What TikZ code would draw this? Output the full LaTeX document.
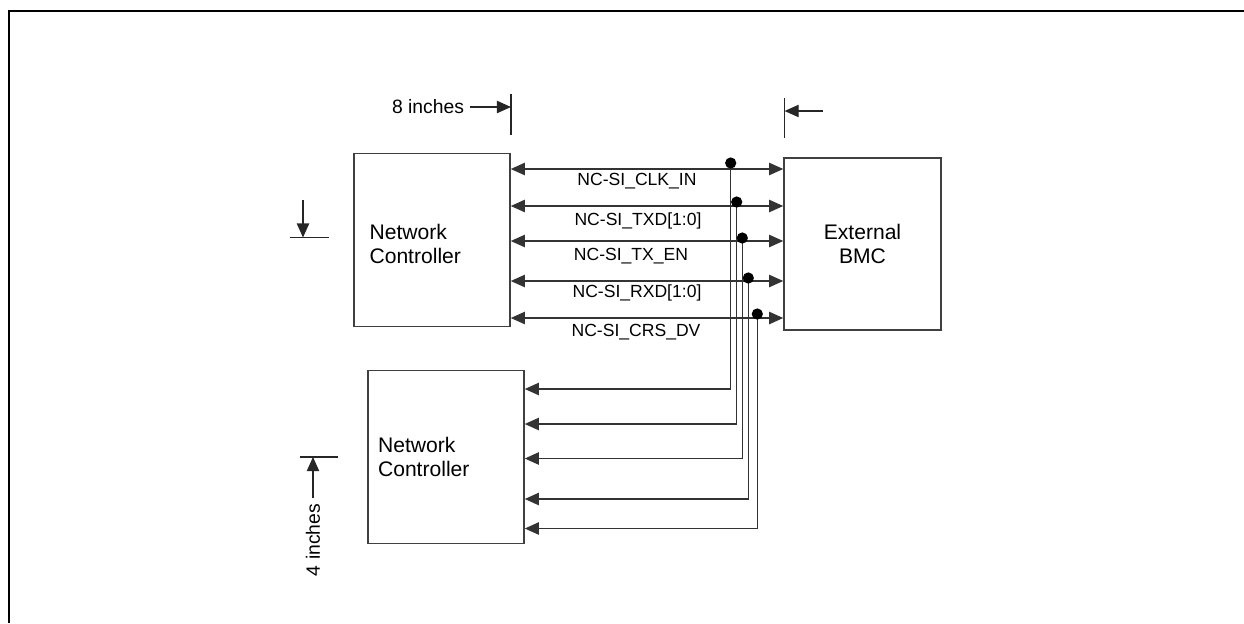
\documentclass[tikz,border=0pt]{standalone}
\usepackage{fontspec}
\setmainfont{Liberation Sans}
\usetikzlibrary{arrows.meta,positioning}

\tikzset{
  block/.style={draw=black!75,line width=0.9pt,minimum width=3.12cm,
    minimum height=3.46cm,inner sep=0pt,align=center,
    font=\fontsize{12}{13.7}\selectfont},
  blocktext/.style={align=left,inner sep=0pt,font=\fontsize{12}{13.7}\selectfont},
  bus/.style={draw=black!80,line width=0.8pt},
  dimline/.style={draw=black!85,line width=0.7pt},
  dimtext/.style={font=\fontsize{11}{13}\selectfont,inner sep=3pt},
}

\begin{document}
\begin{tikzpicture}[x=0.02cm,y=-0.02cm,>={Triangle[length=8pt,width=7pt]},
    font=\fontsize{10}{12}\selectfont]
    \useasboundingbox (0,0) rectangle (1244,623);
    \draw[line width=1.2pt] (1244,11) -- (9,11) -- (9,623);

    % blocks
    \node[block] (nc1) at (432,240) {};
    \node[block,minimum height=3.44cm,minimum width=3.14cm] (bmc) at (862.5,244) {External\\BMC};
    \node[block] (nc2) at (446,457) {};
    \node[blocktext,right=0.32cm of nc1.west,yshift=-0.08cm] (nc1txt) {Network\\Controller};
    \node[blocktext,right=0.21cm of nc2.west] (nc2txt) {Network\\Controller};

    % NC-SI signals, tapped off to the second controller
    \foreach \ly/\bx/\by/\dy/\tx/\ty/\sig [count=\i] in {
        169/730.7/389/163/637/181/{NC-SI\_CLK\_IN},
        206/736.7/424/202/638/221/{NC-SI\_TXD[1:0]},
        241/742.3/458.5/238/631/256/{NC-SI\_TX\_EN},
        281/748.3/499/278/637/293/{NC-SI\_RXD[1:0]},
        318/757.3/528.5/314/636/332/{NC-SI\_CRS\_DV}} {
        \draw[bus,<->] (nc1.east |- 0,\ly) -- (bmc.west |- 0,\ly);
        \coordinate (tap\i) at (\bx,\dy);
        \draw[bus,->] (tap\i) |- (nc2.east |- 0,\by);
        \fill (tap\i) circle (3.2pt);
        \node (sig\i) at (\tx,\ty) {\sig};
    }

    % spacing marks
    \node[dimtext] (dim8) at (428,107) {8 inches};
    \coordinate (tickA) at (511,107);
    \draw[dimline] (511,94) -- (511,135);
    \draw[dimline,->] (dim8.east) -- (tickA);

    \coordinate (tickB) at (784.6,111);
    \draw[dimline] (784.6,98) -- (784.6,138);
    \draw[dimline,->] (823,111) -- (tickB);

    \coordinate (tickC) at (303,237.5);
    \draw[dimline] (290,237.5) -- (329,237.5);
    \draw[dimline,->] (303,200) -- (tickC);

    \node[dimtext,rotate=90] (dim4) at (313,540) {4 inches};
    \coordinate (tickD) at (313,457);
    \draw[dimline] (300,457) -- (338,457);
    \draw[dimline,->] (dim4.east) -- (tickD);
\end{tikzpicture}
\end{document}
